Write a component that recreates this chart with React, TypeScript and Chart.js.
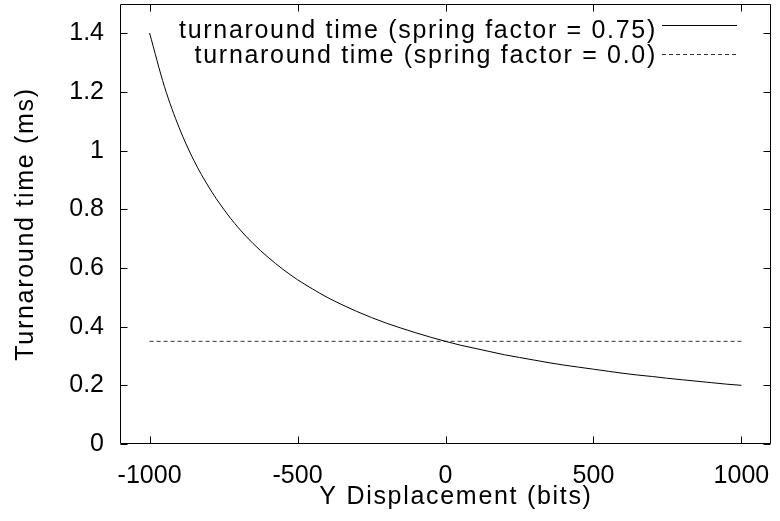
import React, { useEffect, useRef } from "react";
import { Chart, registerables } from "chart.js";

Chart.register(...registerables);

// ---- data ----
const displacement = [
  -1000, -950, -900, -850, -800, -750, -700, -650, -600, -550, -500, -450, -400, -350, -300, -250, -200, -150, -100, -50,
  0, 50, 100, 150, 200, 250, 300, 350, 400, 450, 500, 550, 600, 650, 700, 750, 800, 850, 900, 950, 1000,
];
const turnaroundSpring075 = [
  1.401, 1.219, 1.078, 0.966, 0.876, 0.801, 0.737, 0.683, 0.637, 0.596, 0.56, 0.529, 0.5, 0.475, 0.452, 0.431, 0.412, 0.395,
  0.379, 0.364, 0.35, 0.337, 0.326, 0.315, 0.304, 0.295, 0.286, 0.277, 0.269, 0.262, 0.255, 0.248, 0.241, 0.235, 0.23, 0.224,
  0.219, 0.214, 0.209, 0.204, 0.2,
];
const flatDisplacement = [-1000, 1000];
const turnaroundSpring00 = [0.35, 0.35];

const xTickValues = [-1000, -500, 0, 500, 1000];
const yTickValues = [0, 0.2, 0.4, 0.6, 0.8, 1, 1.2, 1.4];

const seriesLabels = [
  "turnaround time (spring factor = 0.75)",
  "turnaround time (spring factor = 0.0)",
];
const xTitle = "Y Displacement (bits)";
const yTitle = "Turnaround time (ms)";

const FONT = '"Liberation Sans", Arial, Helvetica, sans-serif';

const zeroPad = (s: any) => {
  s.paddingLeft = 0;
  s.paddingRight = 0;
  s.paddingTop = 0;
  s.paddingBottom = 0;
};

const framePlugin = {
  id: "gnuFrame",
  afterDatasetsDraw(chart: any) {
    const { ctx, chartArea: a, scales } = chart;
    const L = Math.round(a.left) + 0.5;
    const R = Math.round(a.right) - 0.5;
    const T = Math.round(a.top) + 0.5;
    const B = Math.round(a.bottom) - 0.5;
    const tl = 7;
    ctx.save();
    ctx.strokeStyle = "#000";
    ctx.lineWidth = 1;
    ctx.setLineDash([]);
    ctx.beginPath();
    ctx.moveTo(L, T);
    ctx.lineTo(R, T);
    ctx.lineTo(R, B);
    ctx.lineTo(L, B);
    ctx.closePath();
    for (const v of xTickValues) {
      const px = Math.round(scales.x.getPixelForValue(v)) + 0.5;
      ctx.moveTo(px, B);
      ctx.lineTo(px, B - tl);
      ctx.moveTo(px, T);
      ctx.lineTo(px, T + tl);
    }
    for (const v of yTickValues) {
      const py = Math.round(scales.y.getPixelForValue(v)) + 0.5;
      ctx.moveTo(L, py);
      ctx.lineTo(L + tl, py);
      ctx.moveTo(R, py);
      ctx.lineTo(R - tl, py);
    }
    ctx.stroke();
    ctx.restore();
  },
  afterDraw(chart: any) {
    const { ctx } = chart;
    ctx.save();
    ctx.fillStyle = "#000";
    ctx.font = `25px ${FONT}`;
    (ctx as any).letterSpacing = "1.7px";
    ctx.textBaseline = "alphabetic";
    // x title
    ctx.textAlign = "center";
    ctx.fillText(xTitle, 456, 504);
    // y title
    ctx.save();
    ctx.translate(33, 224);
    ctx.rotate(-Math.PI / 2);
    ctx.textAlign = "center";
    ctx.fillText(yTitle, 0, 0);
    ctx.restore();
    // legend
    const sampleY = [25, 54];
    const textBase = [38, 63];
    const textRight = 657;
    const sx0 = 662;
    const sx1 = 737;
    ctx.textAlign = "right";
    seriesLabels.forEach((lab, i) => {
      const y = sampleY[i];
      ctx.fillText(lab, textRight, textBase[i]);
      ctx.beginPath();
      ctx.lineWidth = 1;
      if (i === 1) {
        ctx.strokeStyle = "#333";
        ctx.setLineDash([4, 3]);
      } else {
        ctx.strokeStyle = "#000";
        ctx.setLineDash([]);
      }
      ctx.moveTo(sx0, y + 0.5);
      ctx.lineTo(sx1, y + 0.5);
      ctx.stroke();
    });
    ctx.restore();
  },
};

export default function App() {
  const ref = useRef<HTMLCanvasElement | null>(null);
  useEffect(() => {
    if (!ref.current) return;
    const chart = new Chart(ref.current, {
      type: "line",
      data: {
        datasets: [
          {
            label: seriesLabels[0],
            data: displacement.map((x, i) => ({ x, y: turnaroundSpring075[i] })),
            borderColor: "#000",
            borderWidth: 1,
            pointRadius: 0,
            cubicInterpolationMode: "monotone",
            fill: false,
          },
          {
            label: seriesLabels[1],
            data: flatDisplacement.map((x, i) => ({ x, y: turnaroundSpring00[i] })),
            borderColor: "#333",
            borderWidth: 1,
            borderDash: [4, 3],
            pointRadius: 0,
            fill: false,
          },
        ],
      },
      options: {
        responsive: false,
        animation: false,
        devicePixelRatio: 1,
        layout: { padding: { left: 0, right: 9, top: 4, bottom: 0 } },
        plugins: { legend: { display: false }, tooltip: { enabled: false } },
        scales: {
          x: {
            type: "linear",
            min: -1100,
            max: 1100,
            grid: { display: false, drawTicks: false, tickLength: 0 },
            border: { display: false },
            afterBuildTicks: (s: any) => {
              s.ticks = xTickValues.map((v) => ({ value: v }));
            },
            afterFit: (s: any) => {
              s.height = 77;
              zeroPad(s);
            },
            ticks: {
              autoSkip: false,
              maxRotation: 0,
              padding: 17,
              color: "#000",
              font: { family: FONT, size: 25 },
              callback: (v: any) => String(v),
            },
          },
          y: {
            type: "linear",
            min: 0,
            max: 1.5,
            grid: { display: false, drawTicks: false, tickLength: 0 },
            border: { display: false },
            afterBuildTicks: (s: any) => {
              s.ticks = yTickValues.map((v) => ({ value: v }));
            },
            afterFit: (s: any) => {
              s.width = 120;
              zeroPad(s);
            },
            ticks: {
              autoSkip: false,
              padding: 16,
              color: "#000",
              font: { family: FONT, size: 25 },
              callback: (v: any) => String(v),
            },
          },
        },
      },
      plugins: [framePlugin],
    });
    return () => chart.destroy();
  }, []);
  return (
    <div style={{ position: "fixed", left: 0, top: 0, width: 780, height: 521, background: "#fff" }}>
      <canvas ref={ref} width={780} height={521} style={{ display: "block" }} />
    </div>
  );
}
